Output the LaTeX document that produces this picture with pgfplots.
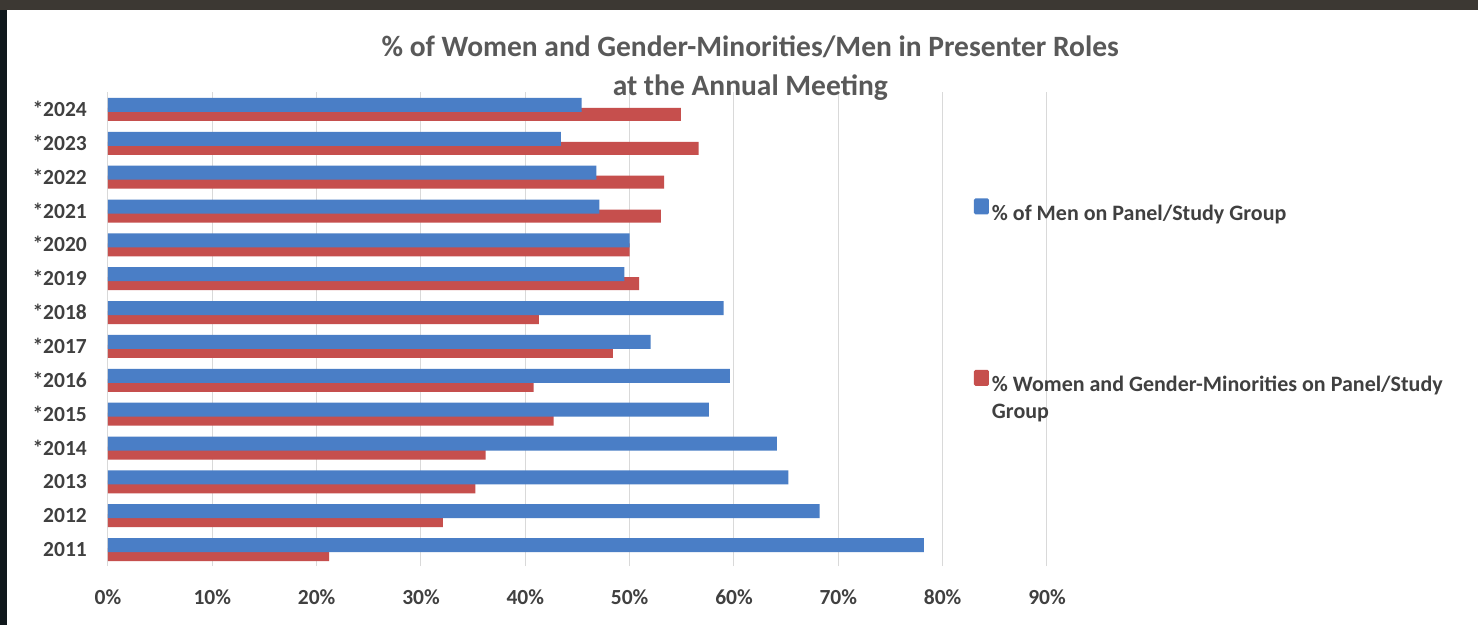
\documentclass[border=0pt]{standalone}
\usepackage{fontspec}
\setmainfont{Carlito}
\usepackage{pgfplots}
\usepackage{pgfplotstable}
\pgfplotsset{compat=1.18}

\definecolor{menblue}{HTML}{4A7EC6}
\definecolor{womred}{HTML}{C64F4D}
\definecolor{gridgray}{HTML}{D9D9D9}
\definecolor{txtgray}{HTML}{404040}
\definecolor{titlegray}{HTML}{595959}
\definecolor{topstrip}{HTML}{3C3833}
\definecolor{sidestrip}{HTML}{10181C}

% y: 0 = 2011 ... 13 = 2024
\pgfplotstableread{
y  men   women
0  78.2  21.2
1  68.2  32.1
2  65.2  35.2
3  64.1  36.2
4  57.6  42.7
5  59.6  40.8
6  52.0  48.4
7  59.0  41.3
8  49.5  50.9
9  50.0  50.0
10 47.1  53.0
11 46.8  53.3
12 43.4  56.6
13 45.4  54.9
}\presenters

\begin{document}
\begin{tikzpicture}
  % slide frame behind the chart
  \fill[topstrip] (-108pt,-59pt) rectangle (1370pt,566pt);
  \fill[sidestrip] (-108pt,-59pt) rectangle (-101pt,556pt);
  \fill[white] (-101pt,-59pt) rectangle (1370pt,556pt);
  \begin{axis}[
    at={(0pt,0pt)}, anchor=south west,
    scale only axis, width=939pt, height=474pt,
    xbar,
    xmin=0, xmax=90, ymin=-0.5, ymax=13.5,
    xtick={0,10,...,90},
    xticklabels={0\%,10\%,20\%,30\%,40\%,50\%,60\%,70\%,80\%,90\%},
    ytick={0,...,13},
    yticklabels={2011,2012,2013,*2014,*2015,*2016,*2017,*2018,*2019,*2020,*2021,*2022,*2023,*2024},
    xmajorgrids, grid style={gridgray, line width=1pt},
    axis line style={draw=none},
    major tick length=0pt, tick style={draw=none},
    ticklabel style={inner sep=0pt, font=\fontsize{21.5}{25}\selectfont\bfseries, text=txtgray},
    yticklabel style={xshift=-21pt},
    xticklabel style={yshift=-23pt},
    title={\% of Women and Gender-Minorities/Men in Presenter Roles\\at the Annual Meeting},
    title style={at={(0.684,1)}, anchor=south, yshift=-15pt, inner sep=0pt, align=center,
      font=\fontsize{29.5}{39}\selectfont\bfseries, text=titlegray},
    reverse legend,
    legend cell align=left,
    legend image code/.code={\fill[#1,draw=none,rounded corners=1.5pt] (0pt,-1pt) rectangle (15pt,15pt);},
    legend style={at={(0.922,0.776)}, anchor=north west, draw=none, fill=none,
      inner sep=0pt, row sep=148pt, column sep=3pt,
      nodes={inner sep=0pt, text=txtgray},
      font=\fontsize{22}{27}\selectfont\bfseries},
  ]
    % red drawn first so the blue bar lies over it, as in the original
    \addplot[fill=womred, draw=none, bar width=13pt, bar shift=-5.5pt]
      table[x=women, y=y] {\presenters};
    \addlegendentry{\parbox[t]{470pt}{\raggedright \% Women and Gender-Minorities on Panel/Study\\Group}}
    \addplot[fill=menblue, draw=none, bar width=14pt, bar shift=4pt]
      table[x=men, y=y] {\presenters};
    \addlegendentry{\% of Men on Panel/Study Group}
  \end{axis}
  \pgfresetboundingbox
  \path[use as bounding box] (-108pt,-59pt) rectangle (1370pt,566pt);
\end{tikzpicture}
\end{document}
